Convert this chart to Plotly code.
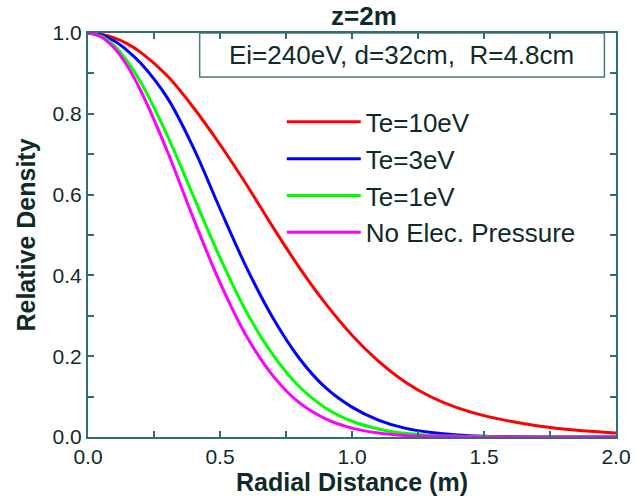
import plotly.graph_objects as go

# ---- data ----
radial_distance = [0.0, 0.05, 0.1, 0.15, 0.2, 0.3, 0.4, 0.5, 0.6, 0.7, 0.8, 0.9, 1.0,
                   1.1, 1.2, 1.3, 1.4, 1.5, 1.6, 1.7, 1.8, 1.9, 2.0]

te_10ev = [1.0, 0.997, 0.988, 0.973, 0.952, 0.894, 0.815, 0.724, 0.625, 0.52, 0.42, 0.33, 0.252,
           0.188, 0.137, 0.099, 0.072, 0.053, 0.039, 0.028, 0.02, 0.014, 0.01]
te_3ev = [1.0, 0.995, 0.98, 0.956, 0.925, 0.84, 0.715, 0.565, 0.42, 0.295, 0.195, 0.122, 0.074,
          0.042, 0.022, 0.011, 0.005, 0.002, 0.001, 0.0, 0.0, 0.0, 0.0]
te_1ev = [1.0, 0.992, 0.968, 0.929, 0.878, 0.747, 0.595, 0.444, 0.31, 0.204, 0.125, 0.072, 0.039,
          0.02, 0.009, 0.004, 0.002, 0.001, 0.0, 0.0, 0.0, 0.0, 0.0]
no_pressure = [1.0, 0.99, 0.962, 0.917, 0.857, 0.708, 0.54, 0.382, 0.25, 0.152, 0.085, 0.045, 0.022,
               0.01, 0.004, 0.002, 0.001, 0.0, 0.0, 0.0, 0.0, 0.0, 0.0]

series_names = ["Te=10eV", "Te=3eV", "Te=1eV", "No Elec. Pressure"]
series_values = [te_10ev, te_3ev, te_1ev, no_pressure]
series_colors = ["#ff0000", "#0000ff", "#00ff00", "#ff00ff"]

title_text = "<b>z=2m</b>"
box_text = "Ei=240eV, d=32cm,  R=4.8cm"
x_title = "<b>Radial Distance (m)</b>"
y_title = "<b>Relative Density</b>"

FONT = "Arial, Liberation Sans, sans-serif"
AXIS_COLOR = "#2f6f6f"
TEXT_COLOR = "#0f2a2a"

fig = go.Figure()
for i, (name, vals, col) in enumerate(zip(series_names, series_values, series_colors)):
    fig.add_trace(go.Scatter(
        x=radial_distance, y=vals, mode="lines", name=name,
        line=dict(color=col, width=3, shape="spline", smoothing=1.0),
    ))

axis_common = dict(
    showline=True, linecolor=AXIS_COLOR, linewidth=2, mirror="ticks",
    ticks="inside", tickcolor=AXIS_COLOR, ticklen=6, tickwidth=1.5,
    showgrid=False, zeroline=False,
    tickfont=dict(family=FONT, size=21, color=TEXT_COLOR),
)

fig.update_xaxes(
    range=[0, 2.0], dtick=0.5, tickformat=".1f",
    minor=dict(dtick=0.25, ticks="inside", ticklen=6, tickcolor=AXIS_COLOR, tickwidth=1.5),
    title=dict(text=x_title, font=dict(family=FONT, size=25, color=TEXT_COLOR), standoff=2),
    **axis_common,
)
fig.update_yaxes(
    range=[0, 1.0], dtick=0.2, tickformat=".1f",
    minor=dict(dtick=0.1, ticks="inside", ticklen=6, tickcolor=AXIS_COLOR, tickwidth=1.5),
    title=dict(text=y_title, font=dict(family=FONT, size=25, color=TEXT_COLOR), standoff=10),
    **axis_common,
)

fig.add_shape(type="rect", xref="paper", yref="paper",
              x0=0.2115, x1=0.978, y0=0.891, y1=1.0,
              line=dict(color="#4a7a7a", width=1.5), fillcolor="white", layer="below")
fig.add_annotation(text=box_text, xref="paper", yref="paper",
                   x=0.594, y=0.9455, xanchor="center", yanchor="middle",
                   showarrow=False, font=dict(family=FONT, size=26, color=TEXT_COLOR))

fig.update_layout(
    width=643, height=500,
    margin=dict(l=88, r=16, t=33, b=63),
    paper_bgcolor="white", plot_bgcolor="white",
    title=dict(text=title_text, x=0.566, xanchor="center", y=0.968, yanchor="middle",
               font=dict(family=FONT, size=26, color=TEXT_COLOR)),
    showlegend=True,
    legend=dict(x=0.367, y=0.838, xanchor="left", yanchor="top",
                bgcolor="rgba(0,0,0,0)", borderwidth=0,
                font=dict(family=FONT, size=26, color=TEXT_COLOR),
                itemwidth=74),
)

fig.write_html("out.html", config={"displayModeBar": False},
               post_script="document.body.style.margin='0';")
